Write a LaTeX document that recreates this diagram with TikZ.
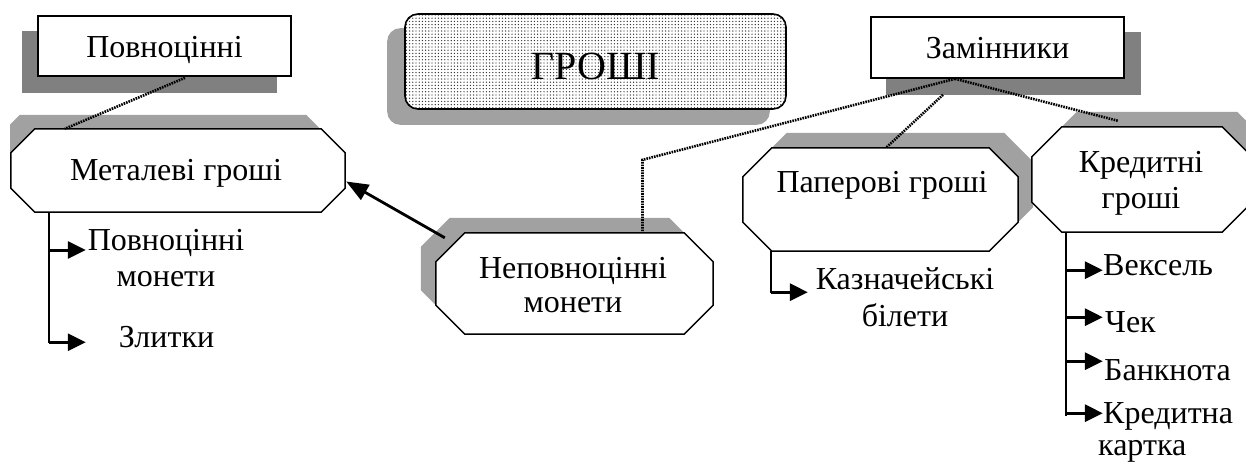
\documentclass[tikz,border=0pt]{standalone}
\usepackage{fontspec}
\setmainfont{Liberation Serif}
\usetikzlibrary{arrows.meta,patterns.meta,calc}
\pgfdeclarelayer{bg}
\pgfdeclarelayer{mid}
\pgfsetlayers{bg,mid,main}
% octagon outline around the rectangle node #1, corner cut #2, shifted by (#3,#4)
\newcommand\octoutline[4]{($(#1.north west)+(#2,0)+(#3,#4)$) -- ($(#1.north east)+(-#2,0)+(#3,#4)$) -- ($(#1.north east)+(0,#2)+(#3,#4)$) -- ($(#1.south east)+(0,-#2)+(#3,#4)$) -- ($(#1.south east)+(-#2,0)+(#3,#4)$) -- ($(#1.south west)+(#2,0)+(#3,#4)$) -- ($(#1.south west)+(0,-#2)+(#3,#4)$) -- ($(#1.north west)+(0,#2)+(#3,#4)$) -- cycle}
\newcommand\octagonal[4]{%
  \begin{pgfonlayer}{bg}\begin{scope}\clip (10,0) rectangle (1246,463);
    \fill[lightshadow] \octoutline{#1}{#2}{#3}{#4};\end{scope}\end{pgfonlayer}%
  \begin{pgfonlayer}{mid}\begin{scope}\clip (9,0) rectangle (1246,463);
    \filldraw[octline] \octoutline{#1}{#2}{0}{0};\end{scope}\end{pgfonlayer}}
\begin{document}
\begin{tikzpicture}[x=1pt,y=-1pt,
  lbl/.style={inner sep=0pt, anchor=base, font=\fontsize{32}{36}\selectfont},
  lblw/.style={lbl, anchor=base west},
  biglbl/.style={inner sep=0pt, anchor=base, font=\fontsize{40}{44}\selectfont},
  area/.style={inner sep=0pt, draw=none},
  rectbox/.style={draw, line width=1.6pt, fill=white, inner sep=0pt},
  darkshadow/.style={fill=black!50},
  lightshadow/.style={fill=black!37},
  octline/.style={draw=black, fill=white, line width=1.5pt},
  dotline/.style={line width=2.6pt, dash pattern=on 1.6pt off 1pt},
  branch/.style={line width=2pt},
  tiparrow/.style={line width=3pt, -{Triangle[length=18pt,width=17pt]}},
  mainarrow/.style={line width=2.8pt, -{Triangle[length=22pt,width=17pt]}}]

\useasboundingbox (0,0) rectangle (1246,463);

% ---------- rectangular boxes ----------
\node[rectbox, minimum width=253pt, minimum height=60pt] (pov) at (164.5,46) {};
\node[lbl] (povT) at (164.5,57) {Повноцінні};
\begin{pgfonlayer}{bg}
  \fill[darkshadow] ($(pov.south west)+(-15,16)$) rectangle ($(pov.north east)+(-15,16)$);
\end{pgfonlayer}

\node[rectbox, minimum width=253pt, minimum height=61pt] (zam) at (997.5,47.5) {};
\node[lbl] (zamT) at (997.5,58) {Замінники};
\begin{pgfonlayer}{bg}
  \fill[darkshadow] ($(zam.south west)+(16,16)$) rectangle ($(zam.north east)+(16,16)$);
\end{pgfonlayer}

\node[draw, line width=1.6pt, inner sep=0pt, rounded corners=13pt,
      minimum width=381pt, minimum height=95pt, preaction={fill=white},
      pattern={Dots[distance=3.2pt,radius=0.7pt]}, pattern color=black!80] (gro) at (595.5,61.5) {};
\node[biglbl] (groT) at (595.5,79) {ГРОШІ};
\begin{pgfonlayer}{bg}
  \fill[lightshadow, rounded corners=13pt] ($(gro.south west)+(-17,15)$) rectangle ($(gro.north east)+(-17,15)$);
\end{pgfonlayer}

% ---------- octagons ----------
\node[area, minimum width=334pt, minimum height=83pt] (met) at (178,170.5) {};
\octagonal{met}{24}{-15}{-14}
\node[lbl] (metT) at (176,180) {Металеві гроші};

\node[area, minimum width=277pt, minimum height=101pt] (nep) at (574.5,283.5) {};
\octagonal{nep}{29}{-15}{-15}
\node[lbl] (nepA) at (573,278) {Неповноцінні};
\node[lbl] (nepB) at (573,312) {монети};

\node[area, minimum width=275pt, minimum height=103pt] (pap) at (880.5,199.5) {};
\octagonal{pap}{29}{15}{-15}
\node[lbl] (papT) at (882,192) {Паперові гроші};

\node[area, minimum width=220pt, minimum height=105pt] (kred) at (1142,179.5) {};
\octagonal{kred}{30}{15}{-15}
\node[lbl] (kredA) at (1141,172) {Кредитні};
\node[lbl] (kredB) at (1141,208) {гроші};

% ---------- leaf labels ----------
\node[lbl] (lpA) at (166,250) {Повноцінні};
\node[lbl] (lpB) at (166,286) {монети};
\node[lbl] (lzl) at (166.5,347) {Злитки};
\node[lbl] (kazA) at (905,289) {Казначейські};
\node[lbl] (kazB) at (905,326) {білети};
\node[lblw] (vek) at (1103,275) {Вексель};
\node[lblw] (chek) at (1105,332) {Чек};
\node[lblw] (bank) at (1104,380) {Банкнота};
\node[lblw] (kkA) at (1103,423) {Кредитна};
\node[lblw] (kkB) at (1098,455) {картка};

% ---------- dotted connectors ----------
\coordinate (zamHub) at ($(zam.south)+(-42.5,0)$);
\coordinate (zamLow) at ($(zam.south)+(-54.5,16)$);
\coordinate (nepTop) at ($(nep.north)+(68,0)$);
\coordinate (nepKnee) at ($(nepTop)+(0,-73)$);
\coordinate (kredTop) at ($(kred.north)+(-24,-6)$);
\draw[dotline] ($(pov.south)+(20.5,1)$) -- ($(met.north west)+(54,0)$);
\draw[dotline] (zamHub) -- (nepKnee) -- (nepTop);
\draw[dotline] (zamLow) -- ($(pap.north)+(5.5,0)$);
\draw[dotline] (zamHub) -- (kredTop);

% ---------- solid arrow ----------
\draw[mainarrow] ($(nep.north west)+(9,5)$) -- ($(met.east)+(1,11)$);

% ---------- branches ----------
\coordinate (metB) at ($(met.south west)+(38,0)$);
\draw[branch] (metB) -- ++(0,131);
\draw[tiparrow] (metB |- lpA.base) -- ++(37,0);
\draw[tiparrow] ($(metB)+(0,130)$) -- ++(37,0);

\coordinate (papB) at ($(pap.south west)+(28,0)$);
\draw[branch] (papB) -- ++(0,42);
\draw[tiparrow] ($(papB)+(0,41)$) -- ++(37,0);

\coordinate (kredB0) at ($(kred.south west)+(34,0)$);
\draw[branch] (kredB0) -- ++(0,184);
\draw[tiparrow] ($(kredB0)+(0,38)$) -- ++(37,0);
\draw[tiparrow] ($(kredB0)+(0,85)$) -- ++(37,0);
\draw[tiparrow] ($(kredB0)+(0,129)$) -- ++(37,0);
\draw[tiparrow] ($(kredB0)+(0,181)$) -- ++(37,0);
\end{tikzpicture}
\end{document}
